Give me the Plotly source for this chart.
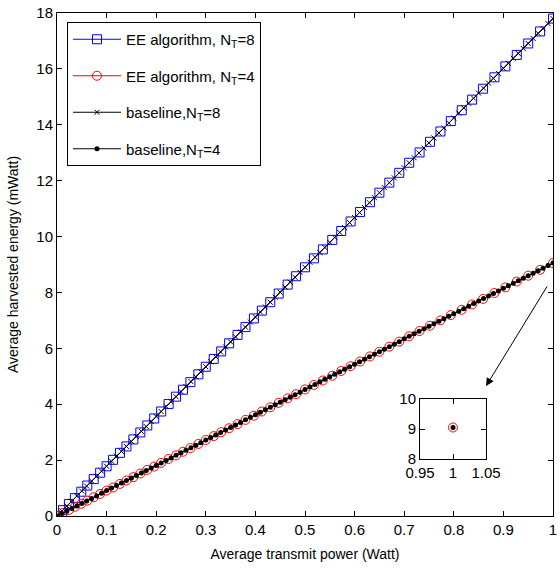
import plotly.graph_objects as go

# EE algorithm data (non-uniform sampling)
ee_power = [0, 0.012, 0.024, 0.036, 0.049, 0.061, 0.074, 0.087, 0.100, 0.113, 0.127, 0.140,
            0.154, 0.168, 0.182, 0.196, 0.210, 0.225, 0.240, 0.254, 0.269, 0.285, 0.300, 0.316,
            0.331, 0.347, 0.364, 0.380, 0.397, 0.413, 0.430, 0.447, 0.465, 0.482, 0.500, 0.518,
            0.536, 0.555, 0.573, 0.592, 0.611, 0.631, 0.650, 0.670, 0.690, 0.710, 0.731, 0.752,
            0.773, 0.794, 0.816, 0.837, 0.859, 0.882, 0.904, 0.927, 0.950, 0.974, 1.0]
ee_nt8 = [0, 0.21, 0.43, 0.64, 0.87, 1.09, 1.32, 1.55, 1.78, 2.01, 2.26, 2.49,
          2.74, 2.99, 3.24, 3.49, 3.74, 4.01, 4.27, 4.52, 4.79, 5.07, 5.34, 5.62,
          5.89, 6.18, 6.48, 6.76, 7.07, 7.35, 7.65, 7.96, 8.28, 8.58, 8.90, 9.22,
          9.54, 9.88, 10.20, 10.54, 10.88, 11.23, 11.57, 11.93, 12.28, 12.64, 13.01, 13.39,
          13.76, 14.13, 14.52, 14.90, 15.29, 15.70, 16.09, 16.50, 16.91, 17.34, 17.80]
ee_nt4 = [0, 0.11, 0.22, 0.33, 0.44, 0.55, 0.67, 0.79, 0.91, 1.02, 1.15, 1.27,
          1.39, 1.52, 1.65, 1.77, 1.90, 2.04, 2.17, 2.30, 2.43, 2.58, 2.72, 2.86,
          3.00, 3.14, 3.29, 3.44, 3.59, 3.74, 3.89, 4.05, 4.21, 4.36, 4.53, 4.69,
          4.85, 5.02, 5.19, 5.36, 5.53, 5.71, 5.88, 6.06, 6.24, 6.43, 6.62, 6.81,
          7.00, 7.19, 7.38, 7.57, 7.77, 7.98, 8.18, 8.39, 8.60, 8.81, 9.05]

# Baseline data (uniform 0.01 sampling)
base_power = [0.00, 0.01, 0.02, 0.03, 0.04, 0.05, 0.06, 0.07, 0.08, 0.09,
              0.10, 0.11, 0.12, 0.13, 0.14, 0.15, 0.16, 0.17, 0.18, 0.19,
              0.20, 0.21, 0.22, 0.23, 0.24, 0.25, 0.26, 0.27, 0.28, 0.29,
              0.30, 0.31, 0.32, 0.33, 0.34, 0.35, 0.36, 0.37, 0.38, 0.39,
              0.40, 0.41, 0.42, 0.43, 0.44, 0.45, 0.46, 0.47, 0.48, 0.49,
              0.50, 0.51, 0.52, 0.53, 0.54, 0.55, 0.56, 0.57, 0.58, 0.59,
              0.60, 0.61, 0.62, 0.63, 0.64, 0.65, 0.66, 0.67, 0.68, 0.69,
              0.70, 0.71, 0.72, 0.73, 0.74, 0.75, 0.76, 0.77, 0.78, 0.79,
              0.80, 0.81, 0.82, 0.83, 0.84, 0.85, 0.86, 0.87, 0.88, 0.89,
              0.90, 0.91, 0.92, 0.93, 0.94, 0.95, 0.96, 0.97, 0.98, 0.99, 1.00]
base_nt8 = [0, 0.18, 0.36, 0.53, 0.71, 0.89, 1.07, 1.25, 1.42, 1.60,
            1.78, 1.96, 2.14, 2.31, 2.49, 2.67, 2.85, 3.03, 3.20, 3.38,
            3.56, 3.74, 3.92, 4.09, 4.27, 4.45, 4.63, 4.81, 4.98, 5.16,
            5.34, 5.52, 5.70, 5.87, 6.05, 6.23, 6.41, 6.59, 6.76, 6.94,
            7.12, 7.30, 7.48, 7.65, 7.83, 8.01, 8.19, 8.37, 8.54, 8.72,
            8.90, 9.08, 9.26, 9.43, 9.61, 9.79, 9.97, 10.15, 10.32, 10.50,
            10.68, 10.86, 11.04, 11.21, 11.39, 11.57, 11.75, 11.93, 12.10, 12.28,
            12.46, 12.64, 12.82, 12.99, 13.17, 13.35, 13.53, 13.71, 13.88, 14.06,
            14.24, 14.42, 14.60, 14.77, 14.95, 15.13, 15.31, 15.49, 15.66, 15.84,
            16.02, 16.20, 16.38, 16.55, 16.73, 16.91, 17.09, 17.27, 17.44, 17.62, 17.80]
base_nt4 = [0, 0.09, 0.18, 0.27, 0.36, 0.45, 0.54, 0.63, 0.72, 0.81,
            0.91, 1.00, 1.09, 1.18, 1.27, 1.36, 1.45, 1.54, 1.63, 1.72,
            1.81, 1.90, 1.99, 2.08, 2.17, 2.26, 2.35, 2.44, 2.53, 2.62,
            2.72, 2.81, 2.90, 2.99, 3.08, 3.17, 3.26, 3.35, 3.44, 3.53,
            3.62, 3.71, 3.80, 3.89, 3.98, 4.07, 4.16, 4.25, 4.34, 4.43,
            4.53, 4.62, 4.71, 4.80, 4.89, 4.98, 5.07, 5.16, 5.25, 5.34,
            5.43, 5.52, 5.61, 5.70, 5.79, 5.88, 5.97, 6.06, 6.15, 6.24,
            6.34, 6.43, 6.52, 6.61, 6.70, 6.79, 6.88, 6.97, 7.06, 7.15,
            7.24, 7.33, 7.42, 7.51, 7.60, 7.69, 7.78, 7.87, 7.96, 8.05,
            8.15, 8.24, 8.33, 8.42, 8.51, 8.60, 8.69, 8.78, 8.87, 8.96, 9.05]

x_ticks = [0, 0.1, 0.2, 0.3, 0.4, 0.5, 0.6, 0.7, 0.8, 0.9, 1]
x_tick_text = ["0", "0.1", "0.2", "0.3", "0.4", "0.5", "0.6", "0.7", "0.8", "0.9", "1"]
y_ticks = [0, 2, 4, 6, 8, 10, 12, 14, 16, 18]
inset_x_ticks = [0.95, 1, 1.05]
inset_x_text = ["0.95", "1", "1.05"]
inset_y_ticks = [8, 9, 10]

names = ["EE algorithm, N<sub>T</sub>=8", "EE algorithm, N<sub>T</sub>=4",
         "baseline,N<sub>T</sub>=8", "baseline,N<sub>T</sub>=4"]

FONT = "Liberation Sans, Arial, sans-serif"

fig = go.Figure()
fig.add_trace(go.Scatter(x=ee_power, y=ee_nt8, mode="lines+markers", name=names[0],
                         legendgroup="a",
                         line=dict(color="#0000ff", width=1),
                         marker=dict(symbol="square-open", size=9, color="#0000ff",
                                     line=dict(width=1, color="#0000ff"))))
fig.add_trace(go.Scatter(x=ee_power, y=ee_nt4, mode="lines+markers", name=names[1],
                         legendgroup="b",
                         line=dict(color="#ff0000", width=1),
                         marker=dict(symbol="circle-open", size=9, color="#ff0000",
                                     line=dict(width=1, color="#ff0000"))))
fig.add_trace(go.Scatter(x=base_power, y=base_nt8, mode="lines+markers", name=names[2],
                         legendgroup="c",
                         line=dict(color="black", width=1),
                         marker=dict(symbol="x-thin", size=5, color="black",
                                     line=dict(width=1, color="black"))))
fig.add_trace(go.Scatter(x=base_power, y=base_nt4, mode="lines+markers", name=names[3],
                         legendgroup="d",
                         line=dict(color="black", width=1),
                         marker=dict(symbol="circle", size=5, color="black")))

# inset: last point of the N_T=4 curves
fig.add_trace(go.Scatter(x=[ee_power[-1]], y=[ee_nt4[-1]], mode="markers", showlegend=False,
                         xaxis="x2", yaxis="y2",
                         marker=dict(symbol="circle-open", size=9, color="#ff0000",
                                     line=dict(width=1, color="#ff0000"))))
fig.add_trace(go.Scatter(x=[base_power[-1]], y=[base_nt4[-1]], mode="markers", showlegend=False,
                         xaxis="x2", yaxis="y2",
                         marker=dict(symbol="circle", size=5, color="black")))

axis_common = dict(showgrid=False, zeroline=False, showline=True, linecolor="black",
                   linewidth=1, mirror="ticks", ticks="inside", ticklen=5,
                   tickcolor="black", tickwidth=1, automargin=False,
                   tickfont=dict(family=FONT, size=15, color="black"))

# page body margin is removed (post_script); plot area in page pixels: x 57..553, y 13..516
W, H = 560, 574
L, R, T, B = 57, 7, 13, 58
pw = W - L - R
ph = H - T - B

def px_x(p):
    return (p - L) / pw

def px_y(p):
    return (H - B - p) / ph

fig.update_layout(
    width=W, height=H,
    margin=dict(l=L, r=R, t=T, b=B),
    paper_bgcolor="white", plot_bgcolor="white",
    font=dict(family=FONT, size=14, color="black"),
    xaxis=dict(range=[0, 1], tickvals=x_ticks, ticktext=x_tick_text,
               title=dict(text="Average transmit power (Watt)", font=dict(size=14), standoff=12),
               **axis_common),
    yaxis=dict(range=[0, 18], tickvals=y_ticks,
               title=dict(text="Average harvested energy (mWatt)", font=dict(size=14), standoff=14),
               **axis_common),
    xaxis2=dict(domain=[px_x(420), px_x(486)], anchor="y2", range=[0.95, 1.05],
                tickvals=inset_x_ticks, ticktext=inset_x_text, **axis_common),
    yaxis2=dict(domain=[px_y(459), px_y(399)], anchor="x2", range=[8, 10],
                tickvals=inset_y_ticks, **axis_common),
    legend=dict(x=px_x(67), y=px_y(22), xanchor="left", yanchor="top",
                bordercolor="black", borderwidth=1, bgcolor="white",
                font=dict(family=FONT, size=15, color="black"),
                tracegroupgap=14, itemwidth=48),
    showlegend=True,
)

fig.add_annotation(x=0.865, y=4.65, ax=0.99, ay=8.27, xref="x", yref="y",
                   axref="x", ayref="y", showarrow=True, arrowhead=2, arrowsize=1.6,
                   arrowwidth=1, arrowcolor="black", text="")

fig.write_html("out.html",
               config={"displayModeBar": False},
               post_script="document.body.style.margin='0';document.body.style.overflow='hidden';")
